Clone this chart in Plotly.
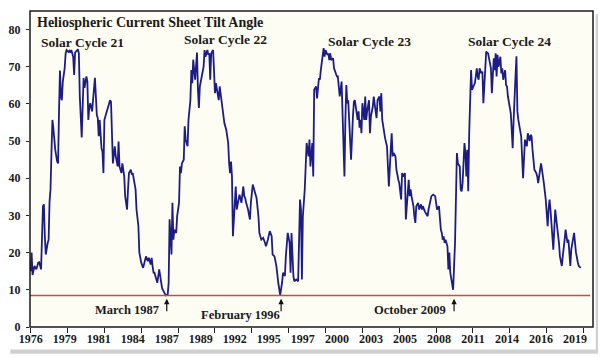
import plotly.graph_objects as go

# Carrington rotation number and heliospheric current sheet tilt angle (degrees)
rotation = [
    1642, 1643, 1644, 1646, 1648, 1650, 1651, 1653, 1655, 1656, 1657, 1658, 1660, 1661, 1662, 1663,
    1664, 1665, 1666, 1667, 1668, 1670, 1671, 1672, 1673, 1674, 1675, 1676, 1678, 1679, 1680, 1682,
    1683, 1684, 1685, 1687, 1688, 1689, 1691, 1692, 1693, 1694, 1696, 1697, 1698, 1699, 1701, 1702,
    1703, 1704, 1705, 1707, 1708, 1709, 1710, 1712, 1713, 1714, 1715, 1717, 1718, 1719, 1720, 1722,
    1724, 1726, 1727, 1728, 1729, 1731, 1732, 1734, 1735, 1736, 1738, 1739, 1741, 1742, 1744, 1745,
    1746, 1748, 1749, 1750, 1751, 1753, 1754, 1756, 1757, 1759, 1761, 1763, 1764, 1766, 1767, 1769,
    1770, 1771, 1772, 1773, 1775, 1776, 1778, 1780, 1781, 1782, 1784, 1785, 1787, 1788, 1789, 1790,
    1791, 1792, 1793, 1794, 1796, 1797, 1799, 1800, 1801, 1802, 1804, 1805, 1806, 1808, 1809, 1811,
    1812, 1813, 1814, 1816, 1817, 1818, 1819, 1820, 1821, 1823, 1824, 1825, 1826, 1827, 1829, 1830,
    1831, 1832, 1833, 1835, 1836, 1837, 1838, 1839, 1841, 1842, 1844, 1845, 1847, 1849, 1851, 1852,
    1853, 1854, 1855, 1856, 1858, 1859, 1860, 1861, 1863, 1865, 1867, 1868, 1869, 1870, 1872, 1874,
    1875, 1877, 1879, 1881, 1883, 1884, 1886, 1888, 1890, 1891, 1893, 1895, 1897, 1898, 1900, 1902,
    1904, 1905, 1906, 1908, 1909, 1911, 1912, 1914, 1916, 1917, 1918, 1920, 1921, 1923, 1925, 1927,
    1928, 1929, 1930, 1932, 1933, 1934, 1936, 1937, 1938, 1940, 1941, 1942, 1944, 1945, 1947, 1948,
    1949, 1951, 1952, 1953, 1954, 1956, 1957, 1958, 1959, 1960, 1962, 1963, 1964, 1966, 1967, 1968,
    1969, 1971, 1972, 1973, 1974, 1975, 1976, 1977, 1978, 1979, 1980, 1981, 1983, 1984, 1985, 1987,
    1988, 1989, 1990, 1991, 1992, 1993, 1995, 1996, 1997, 1998, 2000, 2001, 2002, 2004, 2005, 2007,
    2008, 2009, 2011, 2012, 2013, 2014, 2016, 2017, 2019, 2020, 2021, 2023, 2024, 2025, 2026, 2028,
    2029, 2031, 2032, 2034, 2035, 2036, 2038, 2039, 2041, 2042, 2043, 2044, 2045, 2047, 2048, 2049,
    2050, 2052, 2053, 2055, 2056, 2057, 2059, 2060, 2062, 2063, 2065, 2066, 2068, 2070, 2071, 2072,
    2074, 2075, 2076, 2077, 2078, 2079, 2080, 2081, 2083, 2084, 2085, 2086, 2087, 2088, 2089, 2091,
    2092, 2093, 2094, 2096, 2097, 2098, 2099, 2100, 2101, 2102, 2103, 2104, 2105, 2106, 2107, 2108,
    2109, 2110, 2112, 2113, 2114, 2115, 2116, 2117, 2119, 2120, 2121, 2122, 2123, 2124, 2126, 2127,
    2128, 2129, 2130, 2131, 2132, 2133, 2134, 2135, 2136, 2137, 2139, 2140, 2141, 2142, 2144, 2145,
    2146, 2147, 2148, 2150, 2151, 2152, 2153, 2154, 2155, 2156, 2157, 2158, 2159, 2161, 2163, 2164,
    2165, 2166, 2167, 2168, 2170, 2171, 2172, 2173, 2174, 2175, 2177, 2178, 2179, 2180, 2181, 2182,
    2183, 2184, 2185, 2187, 2188, 2189, 2190, 2191, 2192, 2193, 2194, 2195, 2196, 2197, 2198, 2199,
    2200, 2201, 2202, 2204, 2205, 2206, 2207, 2208, 2209, 2210, 2211, 2212, 2213, 2214, 2216, 2217,
    2218, 2219, 2221, 2222, 2224,
]
tilt = [
    15.0, 20.0, 14.0, 16.4, 15.5, 17.3, 17.4, 15.5, 32.5, 33.0, 24.4, 19.5, 22.6, 23.5, 33.8, 37.0,
    46.8, 55.7, 53.5, 49.0, 47.7, 44.5, 44.0, 58.0, 69.0, 62.0, 61.0, 66.0, 69.6, 73.6, 74.5, 74.0,
    74.3, 73.8, 74.5, 72.7, 67.8, 73.8, 74.5, 74.7, 73.6, 62.0, 51.0, 58.0, 67.0, 64.3, 67.4, 66.0,
    55.7, 58.9, 60.2, 58.0, 62.0, 63.8, 67.0, 57.0, 56.2, 51.3, 55.7, 48.0, 47.2, 41.4, 55.7, 57.5,
    59.3, 61.0, 60.6, 51.3, 44.0, 48.6, 46.0, 43.2, 49.9, 43.2, 41.4, 44.0, 40.5, 35.2, 31.6, 37.0,
    41.4, 42.3, 41.0, 41.4, 39.6, 37.0, 31.6, 27.1, 20.0, 17.3, 15.9, 17.7, 19.0, 17.7, 18.6, 16.8,
    18.6, 16.4, 14.6, 14.6, 12.3, 11.9, 15.5, 11.0, 10.5, 9.9, 8.8, 8.5, 8.7, 11.9, 29.0, 22.6,
    19.5, 33.4, 23.5, 26.2, 25.3, 29.8, 33.4, 43.2, 41.4, 44.0, 45.0, 54.0, 50.4, 48.6, 55.7, 61.0,
    69.1, 65.6, 71.9, 66.5, 70.0, 73.8, 63.8, 58.9, 64.7, 67.4, 69.0, 70.0, 74.5, 72.7, 74.5, 73.2,
    73.6, 66.5, 73.6, 74.5, 69.0, 62.9, 65.6, 63.8, 61.0, 64.7, 60.6, 57.5, 54.8, 53.0, 49.5, 44.0,
    41.4, 44.5, 40.5, 24.4, 35.2, 37.8, 31.6, 33.4, 35.6, 33.4, 37.8, 35.2, 34.7, 33.4, 31.6, 28.9,
    33.4, 38.3, 36.1, 34.7, 29.8, 25.3, 23.5, 24.0, 22.6, 21.7, 23.5, 25.8, 24.4, 19.5, 19.0, 16.4,
    11.9, 9.4, 8.6, 11.9, 14.6, 13.7, 19.0, 25.3, 22.6, 14.6, 25.3, 13.7, 12.3, 12.8, 12.3, 34.3,
    31.6, 12.8, 29.8, 37.0, 42.0, 49.5, 45.9, 50.4, 43.2, 49.5, 40.5, 63.8, 64.7, 61.5, 66.9, 66.5,
    69.1, 73.6, 75.0, 72.7, 74.5, 73.2, 73.6, 71.8, 73.6, 71.8, 72.3, 69.6, 68.7, 67.4, 67.4, 64.7,
    62.0, 66.0, 58.0, 49.5, 40.5, 55.7, 65.1, 60.2, 61.0, 55.7, 51.3, 45.0, 56.6, 60.6, 61.0, 58.0,
    55.7, 58.0, 53.6, 55.7, 52.1, 60.2, 55.7, 62.0, 55.7, 58.0, 61.0, 52.1, 56.6, 59.3, 62.0, 58.0,
    56.2, 61.0, 62.0, 58.0, 62.9, 55.7, 51.3, 50.8, 48.6, 40.5, 37.8, 47.7, 52.1, 45.9, 46.8, 45.9,
    42.3, 39.6, 38.7, 34.3, 41.4, 40.5, 41.4, 28.9, 36.5, 39.6, 35.2, 37.0, 35.2, 32.5, 29.8, 28.0,
    32.5, 33.4, 31.6, 33.0, 31.6, 32.5, 31.1, 30.7, 29.8, 31.6, 33.8, 35.2, 35.6, 35.2, 33.4, 31.6,
    32.5, 28.0, 26.2, 25.3, 23.5, 24.4, 22.6, 23.5, 21.7, 15.5, 20.0, 14.6, 12.8, 11.9, 10.0, 22.6,
    42.3, 46.8, 44.0, 43.2, 37.0, 36.5, 38.7, 44.0, 49.5, 46.8, 40.5, 47.7, 36.5, 52.1, 58.4, 69.1,
    63.8, 64.3, 65.6, 67.4, 69.6, 67.4, 66.5, 69.6, 68.2, 68.7, 60.2, 64.7, 70.0, 74.1, 73.6, 71.8,
    70.0, 69.6, 62.9, 68.2, 72.3, 69.1, 73.6, 67.4, 73.2, 70.0, 72.7, 68.2, 69.6, 66.5, 69.1, 65.1,
    64.7, 62.0, 60.2, 57.5, 53.0, 48.1, 55.7, 60.2, 67.4, 72.8, 58.0, 55.7, 54.0, 51.3, 40.0, 45.9,
    50.4, 49.5, 48.6, 52.1, 50.0, 51.7, 51.3, 47.7, 44.0, 42.3, 41.4, 40.5, 38.7, 40.5, 41.4, 44.0,
    42.3, 39.6, 38.7, 34.3, 30.7, 27.1, 31.6, 34.3, 31.6, 28.9, 24.4, 20.8, 28.0, 31.6, 29.3, 27.1,
    26.2, 22.6, 19.0, 16.4, 19.0, 20.8, 23.5, 26.2, 24.4, 22.6, 23.5, 20.8, 16.4, 20.8, 23.5, 25.3,
    22.6, 20.0, 17.3, 16.4, 15.9,
]

# x-axis labels (every 36 rotations) and tick marks (every 39 rotations)
label_rotations = [1642 + 36 * i for i in range(17)]
label_years = ["1976", "1979", "1981", "1984", "1987", "1989", "1992", "1995", "1997",
               "2000", "2003", "2005", "2008", "2011", "2014", "2016", "2019"]
tick_rotations = [1642 + 39 * i for i in range(16)]
y_ticks = [0, 10, 20, 30, 40, 50, 60, 70, 80]

reference_level = 8.5
cycles = ["Solar Cycle 21", "Solar Cycle 22", "Solar Cycle 23", "Solar Cycle 24"]
cycle_rot = [1697, 1848, 2000, 2149]
cycle_y = [76.6, 77.3, 76.8, 76.8]
minima = ["March 1987", "February 1996", "October 2009"]
minima_rot = [1786, 1907, 2090]
minima_text_rot = [1743.5, 1864.5, 2043.3]
minima_text_y = [4.6, 3.1, 4.7]

FONT = "Georgia, 'Liberation Serif', 'DejaVu Serif', serif"
TXT = "#1a1a1a"

fig = go.Figure()
fig.add_trace(go.Scatter(x=rotation, y=tilt, mode="lines",
                         line=dict(color="#1c1c86", width=1.8),
                         hoverinfo="skip", showlegend=False))
# helper trace for the tick-mark axis
fig.add_trace(go.Scatter(x=[tick_rotations[0]], y=[0], xaxis="x2", mode="markers",
                         marker=dict(opacity=0), hoverinfo="skip", showlegend=False))

# the page body adds an 8px offset, so the figure is laid out 8px up/left
xr = [1641.3, 2237]
fig.update_layout(
    width=606, height=357,
    margin=dict(l=22, r=21, t=3, b=38, autoexpand=False),
    paper_bgcolor="white",
    plot_bgcolor="#fdfdf3",
    font=dict(family=FONT, color=TXT),
    xaxis=dict(range=xr, tickmode="array", tickvals=label_rotations, ticktext=label_years,
               ticks="", showgrid=False, zeroline=False, showline=False, automargin=False,
               tickfont=dict(family=FONT, size=12, color=TXT, weight="bold"),
               ticklabelstandoff=3),
    xaxis2=dict(range=xr, overlaying="x", anchor="y", side="bottom",
                tickmode="array", tickvals=tick_rotations, showticklabels=False,
                ticks="outside", ticklen=5, tickcolor="#222", tickwidth=1, automargin=False,
                showgrid=False, zeroline=False, showline=False),
    yaxis=dict(range=[0, 85], tickmode="array", tickvals=y_ticks,
               ticks="outside", ticklen=3, tickcolor="#222", tickwidth=1, automargin=False,
               showgrid=False, zeroline=False, showline=False,
               tickfont=dict(family=FONT, size=12, color=TXT, weight="bold"),
               ticklabelstandoff=3),
)

shapes = [
    dict(type="line", xref="paper", yref="y", x0=0, x1=0.995,
         y0=reference_level, y1=reference_level, line=dict(color="#c0504d", width=1.5)),
    dict(type="rect", xref="paper", yref="paper", x0=0, x1=1, y0=0, y1=1,
         line=dict(color="#1a1a1a", width=1.5)),
    # drop shadow of the picture frame
    dict(type="rect", xref="paper", yref="paper", x0=1.005, x1=1.016, y0=-0.085, y1=0.99,
         line=dict(width=0), fillcolor="rgba(120,120,120,0.35)", layer="below"),
    dict(type="rect", xref="paper", yref="paper", x0=-0.035, x1=1.005, y0=-0.085, y1=-0.071,
         line=dict(width=0), fillcolor="rgba(120,120,120,0.35)", layer="below"),
]
fig.update_layout(shapes=shapes)

ann = [dict(x=1646.5, y=81.8, xref="x", yref="y", text="Heliospheric Current Sheet Tilt Angle",
            showarrow=False, xanchor="left", yanchor="middle",
            font=dict(family=FONT, size=14, color=TXT, weight="bold"))]
for t, xv, yv in zip(cycles, cycle_rot, cycle_y):
    ann.append(dict(x=xv, y=yv, xref="x", yref="y", text=t, showarrow=False,
                    xanchor="center", yanchor="middle",
                    font=dict(family=FONT, size=13.5, color=TXT, weight="bold")))
for t, xv, yv in zip(minima, minima_text_rot, minima_text_y):
    ann.append(dict(x=xv, y=yv, xref="x", yref="y", text=t, showarrow=False,
                    xanchor="center", yanchor="middle",
                    font=dict(family=FONT, size=12.5, color=TXT, weight="bold")))
for xv in minima_rot:
    ann.append(dict(x=xv, y=7.6, xref="x", yref="y", text="", showarrow=True,
                    ax=0, ay=14, arrowhead=2, arrowsize=0.9, arrowwidth=1.2,
                    arrowcolor="#111"))
fig.update_layout(annotations=ann)

fig.write_html("out.html")
